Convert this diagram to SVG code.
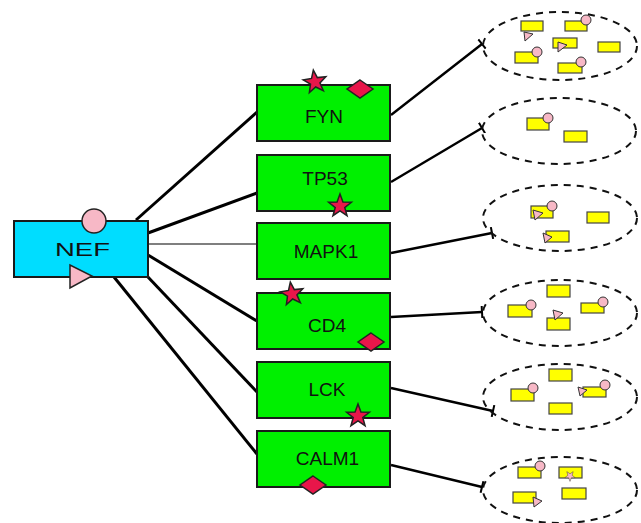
<svg xmlns="http://www.w3.org/2000/svg" width="641" height="523" viewBox="0 0 641 523">
<style>
.gene{fill:#00F000;stroke:#1a1a1a;stroke-width:2}
.lbl{font-family:"Liberation Sans",Arial,sans-serif;font-size:19px;fill:#111;text-anchor:middle}
.red{fill:#E8164A;stroke:#222;stroke-width:1.5}
.pink{fill:#F7B8C6;stroke:#222;stroke-width:1.5}
.spink{fill:#F7B8C6;stroke:#333;stroke-width:1}
.yel{fill:#FFFF00;stroke:#444;stroke-width:1.2}
.ell{fill:none;stroke:#111;stroke-width:2;stroke-dasharray:7 6}
.thick{stroke:#000;stroke-width:3;fill:none}
.tee{stroke:#000;stroke-width:2.4;fill:none;marker-end:url(#tee)}
</style>
<defs>
<polygon id="star" points="0,-12 2.94,-4.05 11.41,-3.71 4.76,1.55 7.05,9.71 0,5 -7.05,9.71 -4.76,1.55 -11.41,-3.71 -2.94,-4.05"/>
<polygon id="dia" points="0,-9 13,0 0,9 -13,0"/>
<marker id="tee" markerUnits="userSpaceOnUse" markerWidth="4" markerHeight="12" refX="2" refY="6" orient="auto">
<line x1="2" y1="0" x2="2" y2="12" stroke="#000" stroke-width="2"/>
</marker>
</defs>

<g id="connectors">
<line class="thick" x1="136" y1="220" x2="257" y2="112"/>
<line class="thick" x1="148" y1="233" x2="257" y2="193"/>
<line x1="148" y1="244" x2="257" y2="244" stroke="#555" stroke-width="1.3"/>
<line class="thick" x1="148" y1="255" x2="257" y2="321"/>
<line class="thick" x1="147" y1="276" x2="257" y2="392"/>
<line class="thick" x1="114" y1="277" x2="257" y2="454"/>
<line class="tee" x1="391" y1="115" x2="482" y2="44"/>
<line class="tee" x1="391" y1="182" x2="482" y2="128"/>
<line class="tee" x1="391" y1="253" x2="492" y2="233"/>
<line class="tee" x1="391" y1="317" x2="482" y2="312"/>
<line class="tee" x1="391" y1="388" x2="493" y2="411"/>
<line class="tee" x1="391" y1="465" x2="482" y2="487"/>
</g>

<g id="NEF">
<rect x="14" y="221" width="134" height="56" fill="#00DDFF" stroke="#1a1a1a" stroke-width="2"/>
<text class="lbl" x="82.5" y="256" textLength="55" lengthAdjust="spacingAndGlyphs">NEF</text>
<circle class="pink" cx="94" cy="221" r="12"/>
<polygon class="pink" points="70,265 70,288 92,276"/>
</g>

<g id="FYN">
<rect class="gene" x="257" y="85" width="133" height="56"/>
<text class="lbl" x="324" y="123">FYN</text>
<use href="#star" class="red" transform="translate(315,82) rotate(-8)"/>
<use href="#dia" class="red" transform="translate(360,89)"/>
</g>

<g id="TP53">
<rect class="gene" x="257" y="155" width="133" height="56"/>
<text class="lbl" x="325" y="185">TP53</text>
<use href="#star" class="red" transform="translate(340,206)"/>
</g>

<g id="MAPK1">
<rect class="gene" x="257" y="223" width="133" height="56"/>
<text class="lbl" x="326" y="258">MAPK1</text>
</g>

<g id="CD4">
<rect class="gene" x="257" y="293" width="133" height="56"/>
<text class="lbl" x="327" y="332">CD4</text>
<use href="#star" class="red" transform="translate(292,294) rotate(-8)"/>
<use href="#dia" class="red" transform="translate(371,342)"/>
</g>

<g id="LCK">
<rect class="gene" x="257" y="362" width="133" height="56"/>
<text class="lbl" x="327" y="396">LCK</text>
<use href="#star" class="red" transform="translate(358,416)"/>
</g>

<g id="CALM1">
<rect class="gene" x="257" y="431" width="133" height="56"/>
<text class="lbl" x="327.5" y="465">CALM1</text>
<use href="#dia" class="red" transform="translate(313,485)"/>
</g>

<g id="complex1">
<ellipse class="ell" cx="560" cy="46" rx="77" ry="34"/>
<rect class="yel" x="521" y="21" width="22" height="10"/>
<polygon class="spink" points="524,32 525,41 533,34"/>
<rect class="yel" x="565" y="21" width="22" height="10"/>
<circle class="spink" cx="586" cy="20" r="5"/>
<rect class="yel" x="553" y="38" width="24" height="10"/>
<polygon class="spink" points="558,42 558,52 567,45"/>
<rect class="yel" x="598" y="42" width="22" height="10"/>
<rect class="yel" x="515" y="52" width="23" height="11"/>
<circle class="spink" cx="537" cy="52" r="5"/>
<rect class="yel" x="558" y="63" width="24" height="10"/>
<circle class="spink" cx="581" cy="62" r="5"/>
</g>

<g id="complex2">
<ellipse class="ell" cx="559" cy="131" rx="77" ry="33"/>
<rect class="yel" x="527" y="118" width="22" height="12"/>
<circle class="spink" cx="548" cy="118" r="5"/>
<rect class="yel" x="564" y="131" width="23" height="11"/>
</g>

<g id="complex3">
<ellipse class="ell" cx="560" cy="218" rx="77" ry="33"/>
<rect class="yel" x="531" y="206" width="22" height="12"/>
<circle class="spink" cx="552" cy="206" r="5"/>
<polygon class="spink" points="533,210 535,220 543,213"/>
<rect class="yel" x="587" y="212" width="22" height="11"/>
<rect class="yel" x="546" y="231" width="23" height="11"/>
<polygon class="spink" points="543,233 545,243 552,237"/>
</g>

<g id="complex4">
<ellipse class="ell" cx="560" cy="313" rx="77" ry="33"/>
<rect class="yel" x="547" y="285" width="23" height="12"/>
<rect class="yel" x="508" y="305" width="24" height="12"/>
<circle class="spink" cx="531" cy="305" r="5"/>
<rect class="yel" x="581" y="303" width="23" height="10"/>
<circle class="spink" cx="603" cy="302" r="5"/>
<rect class="yel" x="547" y="318" width="23" height="12"/>
<polygon class="spink" points="553,310 555,320 563,313"/>
</g>

<g id="complex5">
<ellipse class="ell" cx="560" cy="397" rx="77" ry="33"/>
<rect class="yel" x="549" y="369" width="23" height="12"/>
<rect class="yel" x="511" y="389" width="23" height="12"/>
<circle class="spink" cx="533" cy="388" r="5"/>
<rect class="yel" x="583" y="387" width="23" height="10"/>
<circle class="spink" cx="605" cy="385" r="5"/>
<polygon class="spink" points="578,387 580,396 587,390"/>
<rect class="yel" x="549" y="403" width="23" height="11"/>
</g>

<g id="complex6">
<ellipse class="ell" cx="560" cy="490" rx="77" ry="33"/>
<rect class="yel" x="518" y="467" width="23" height="11"/>
<circle class="spink" cx="540" cy="466" r="5"/>
<rect class="yel" x="559" y="467" width="23" height="11"/>
<use href="#star" class="spink" transform="translate(570,476) rotate(180) scale(0.45)"/>
<rect class="yel" x="513" y="492" width="23" height="11"/>
<polygon class="spink" points="533,497 534,507 542,501"/>
<rect class="yel" x="562" y="488" width="24" height="11"/>
</g>
</svg>
